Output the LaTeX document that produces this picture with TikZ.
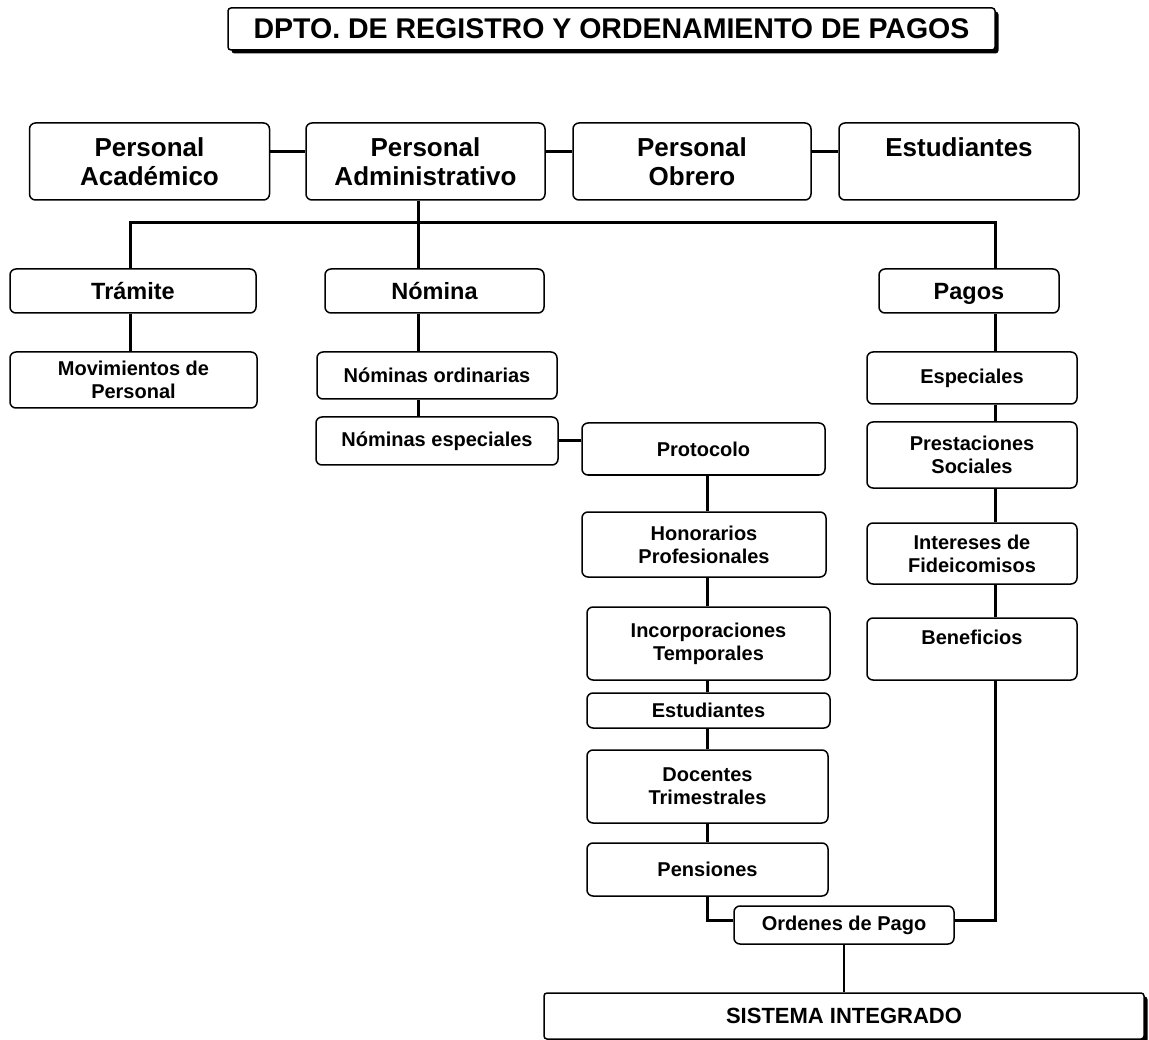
\documentclass[tikz,border=0pt]{standalone}
\usepackage{fontspec}
\setmainfont{Liberation Sans}
\usetikzlibrary{shadows}

\begin{document}
\begin{tikzpicture}[x=1pt,y=-1pt,
    wh/.style 2 args={minimum width=#1pt,minimum height=#2pt},
    box/.style={draw,line width=1.5pt,rounded corners=6pt,fill=white,align=center,inner sep=0pt},
    big/.style={box,font=\fontsize{26}{29}\selectfont\bfseries},
    mid/.style={box,font=\fontsize{23.5}{27}\selectfont\bfseries},
    small/.style={box,font=\fontsize{20}{23}\selectfont\bfseries},
    shbox/.style={box,rounded corners=3pt,drop shadow={opacity=1,fill=black,shadow xshift=3.5pt,shadow yshift=-3.5pt}},
    link/.style={line width=3pt},
  ]
    \useasboundingbox (0,0) rectangle (1149,1040);
    \node[shbox,wh={767}{42},font=\fontsize{28.5}{32}\selectfont\bfseries] (A0_0) at (611.5,29) {DPTO. DE REGISTRO Y ORDENAMIENTO DE PAGOS};
    % personal
    \node[big,wh={240}{77}] (A1_0) at (149.5,161.5) {Personal\\Académico};
    \node[big,wh={239}{77}] (A1_1) at (425.5,161.5) {Personal\\Administrativo};
    \node[big,wh={238}{77}] (A1_2) at (692,161.5) {Personal\\Obrero};
    \node[big,wh={240}{77}] (A1_3) at (959,161.5) {Estudiantes\\\mbox{}};
    % areas
    \node[mid,wh={246}{44}] (A2_0) at (133,291) {Trámite};
    \node[mid,wh={219}{44}] (A2_1) at (434.5,291) {Nómina};
    \node[mid,wh={180}{44},text depth=0pt] (A2_3) at (969,291) {Pagos};
    \node[small,wh={247}{56}] (A3_0) at (133.5,380) {Movimientos de\\Personal};
    \node[small,wh={240}{47}] (A3_1) at (437,375.5) {Nóminas ordinarias};
    \node[small,wh={242}{48}] (A4_1) at (437,441) {Nóminas especiales};
    % especiales
    \node[small,wh={243}{52}] (A4_2) at (703.5,449) {Protocolo};
    \node[small,wh={244}{65}] (A5_2) at (704,544.5) {Honorarios\\Profesionales};
    \node[small,wh={243}{73}] (A6_2) at (708.5,643.5) {Incorporaciones\\Temporales};
    \node[small,wh={243}{35}] (A7_2) at (708.5,710.5) {Estudiantes};
    \node[small,wh={241}{73}] (A8_2) at (707.5,786.5) {Docentes\\Trimestrales};
    \node[small,wh={241}{53}] (A9_2) at (707.5,869.5) {Pensiones};
    % pagos
    \node[small,wh={210}{52}] (A3_3) at (972,378) {Especiales};
    \node[small,wh={210}{66}] (A4_3) at (972,455) {Prestaciones\\Sociales};
    \node[small,wh={210}{61}] (A5_3) at (972,553.5) {Intereses de\\Fideicomisos};
    \node[small,wh={210}{62}] (A6_3) at (972,649) {Beneficios\\\mbox{}};
    % salida
    \node[box,wh={220}{38},font=\fontsize{20}{24}\selectfont\bfseries] (A10_2) at (844,925) {Ordenes de Pago};
    \node[shbox,wh={600}{46},font=\fontsize{22}{26}\selectfont\bfseries] (A11_2) at (844,1016) {SISTEMA INTEGRADO};

    \coordinate (bus) at (418,223);
    \coordinate (busL) at (130,223);
    \coordinate (busR) at (995,223);
    \coordinate (colP) at (707,0);
    \foreach \a/\b in {A1_0/A1_1,A1_1/A1_2,A1_2/A1_3}
      \draw[link] ([yshift=9.5pt]\a.east) -- ([yshift=9.5pt]\b.west);
    \draw[link] (A1_1.south -| bus) -- (bus);
    \draw[link] (A2_0.north -| busL) -- (busL) -- (busR) -- (A2_3.north -| busR);
    \draw[link] (bus) -- (A2_1.north -| bus);
    \draw[link] (A2_0.south -| busL) -- (A3_0.north -| busL);
    \draw[link] (A2_1.south -| bus) -- (A3_1.north -| bus);
    \draw[link] (A3_1.south -| bus) -- (A4_1.north -| bus);
    \draw[link] (A4_1.east) -- (A4_1.east -| A4_2.west);
    \foreach \a/\b in {A4_2/A5_2,A5_2/A6_2,A6_2/A7_2,A7_2/A8_2,A8_2/A9_2}
      \draw[link] (\a.south -| colP) -- (\b.north -| colP);
    \foreach \a/\b in {A2_3/A3_3,A3_3/A4_3,A4_3/A5_3,A5_3/A6_3}
      \draw[link] (\a.south -| busR) -- (\b.north -| busR);
    \draw[link] (A9_2.south -| colP) |- ([yshift=5pt]A10_2.west);
    \draw[link] (A6_3.south -| busR) |- ([yshift=5pt]A10_2.east);
    \draw[line width=1.5pt] (A10_2) -- (A11_2);
\end{tikzpicture}
\end{document}
